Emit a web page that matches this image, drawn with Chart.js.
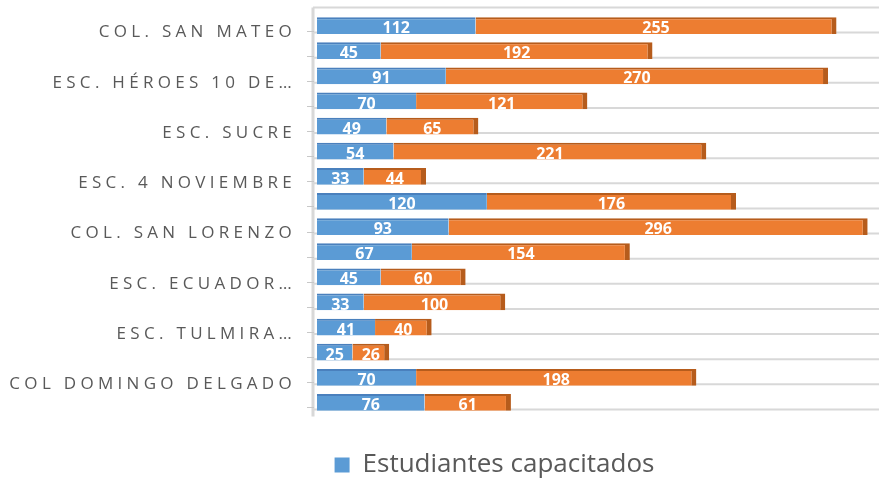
<!DOCTYPE html>
<html>
<head>
<meta charset="utf-8">
<script src="https://cdn.jsdelivr.net/npm/chart.js@4"></script>
<style>
  html, body { margin: 0; padding: 0; background: #fff; }
  #wrap { width: 879px; height: 479px; position: relative; }
</style>
</head>
<body>
<div id="wrap"><canvas id="myChart"></canvas></div>
<script>
// data (top row first)
const categories = ['COL. SAN MATEO', '', 'ESC. HÉROES 10 DE…', '', 'ESC. SUCRE', '', 'ESC. 4 NOVIEMBRE', '',
  'COL. SAN LORENZO', '', 'ESC. ECUADOR…', '', 'ESC. TULMIRA…', '', 'COL DOMINGO DELGADO', ''];
const capacitados = [112, 45, 91, 70, 49, 54, 33, 120, 93, 67, 45, 33, 41, 25, 70, 76];
const otros = [255, 192, 270, 121, 65, 221, 44, 176, 296, 154, 60, 100, 40, 26, 198, 61];
const seriesNames = ['Estudiantes capacitados', 'Estudiantes no capacitados'];

const blue = '#5b9bd5';
const orange = '#ed7d31';
const grey = '#595959';

Chart.defaults.font.family = "'Open Sans', sans-serif";

// 3d-ish floor lines, back wall and tick marks
const floorPlugin = {
  id: 'floor',
  beforeDatasetsDraw(chart) {
    const {ctx, chartArea: a} = chart;
    const y = chart.scales.y;
    const step = y.getPixelForValue(1) - y.getPixelForValue(0);
    const last = categories.length - 1;
    ctx.save();
    ctx.strokeStyle = '#d8d8d8';
    ctx.lineWidth = 2;
    for (let i = -1; i <= last; i++) {
      const yy = (i < 0 ? y.getPixelForValue(0) - step : y.getPixelForValue(i)) + 7;
      ctx.beginPath();
      ctx.moveTo(a.left - 4, yy);
      ctx.lineTo(a.right, yy);
      ctx.stroke();
    }
    ctx.lineWidth = 3;
    ctx.beginPath();
    ctx.moveTo(a.left - 4, y.getPixelForValue(0) + 7 - step);
    ctx.lineTo(a.left - 4, y.getPixelForValue(last) + 14);
    ctx.stroke();
    ctx.strokeStyle = '#c8c8c8';
    ctx.lineWidth = 1;
    categories.forEach((c, i) => {
      const yy = Math.round(y.getPixelForValue(i) + 5) + 0.5;
      ctx.beginPath();
      ctx.moveTo(a.left - 10, yy);
      ctx.lineTo(a.left - 3, yy);
      ctx.stroke();
    });
    ctx.restore();
  },
  afterDatasetsDraw(chart) {
    const ctx = chart.ctx;
    ctx.save();
    ctx.font = "bold 16px 'Open Sans', sans-serif";
    ctx.fillStyle = '#fff';
    ctx.textAlign = 'center';
    ctx.textBaseline = 'middle';
    chart.data.datasets.forEach((ds, d) => {
      chart.getDatasetMeta(d).data.forEach((el, i) => {
        const p = el.getProps(['x', 'base', 'y'], true);
        ctx.fillText(ds.data[i], (p.x + p.base) / 2, p.y + 3);
      });
    });
    ctx.restore();
  }
};

// spaced-out category labels and legend placement
const tweakPlugin = {
  id: 'tweak',
  afterLayout(chart) {
    const lg = chart.legend;
    lg.left += 55; lg.right += 55;
    lg.top += 27; lg.bottom += 27;
  },
  beforeDraw(chart) {
    const s = chart.scales.y;
    if (s._spaced) return;
    const orig = s.drawLabels;
    s.drawLabels = function (area) {
      this.ctx.save();
      this.ctx.letterSpacing = '4.3px';
      orig.call(this, area);
      this.ctx.restore();
    };
    s._spaced = true;
  }
};

let ctx = document.querySelector('#myChart').getContext('2d');
let graphic = new Chart(ctx, {
  type: 'bar',
  data: {
    labels: categories,
    datasets: [{
      label: seriesNames[0],
      data: capacitados,
      backgroundColor: blue,
      borderColor: '#4a80bd',
      borderWidth: {top: 2, right: 0, bottom: 0, left: 0},
      borderSkipped: false,
      categoryPercentage: 0.67,
      barPercentage: 1
    }, {
      label: seriesNames[1],
      data: otros,
      backgroundColor: orange,
      borderColor: '#b65c1c',
      borderWidth: {top: 2, right: 5, bottom: 0, left: 0},
      borderSkipped: false,
      categoryPercentage: 0.67,
      barPercentage: 1
    }]
  },
  options: {
    indexAxis: 'y',
    responsive: true,
    maintainAspectRatio: false,
    animation: false,
    layout: {padding: {top: 13, right: 0, bottom: 18, left: 0}},
    scales: {
      x: {
        stacked: true,
        min: 0,
        max: 397,
        display: false
      },
      y: {
        stacked: true,
        grid: {display: false, drawTicks: false},
        border: {display: false},
        ticks: {
          autoSkip: false,
          padding: 21,
          labelOffset: 7,
          color: grey,
          font: {size: 17}
        },
        afterFit(scale) {
          scale.width = 317;
          scale.paddingTop = 0;
          scale.paddingBottom = 0;
        }
      }
    },
    plugins: {
      legend: {
        position: 'bottom',
        labels: {
          boxWidth: 15,
          boxHeight: 15,
          padding: 10,
          color: grey,
          font: {size: 26},
          generateLabels: () => [{
            text: seriesNames[0],
            fillStyle: blue,
            strokeStyle: blue,
            lineWidth: 0,
            hidden: false,
            datasetIndex: 0,
            fontColor: grey
          }]
        }
      },
      tooltip: {enabled: true}
    }
  },
  plugins: [floorPlugin, tweakPlugin]
});
</script>
</body>
</html>
